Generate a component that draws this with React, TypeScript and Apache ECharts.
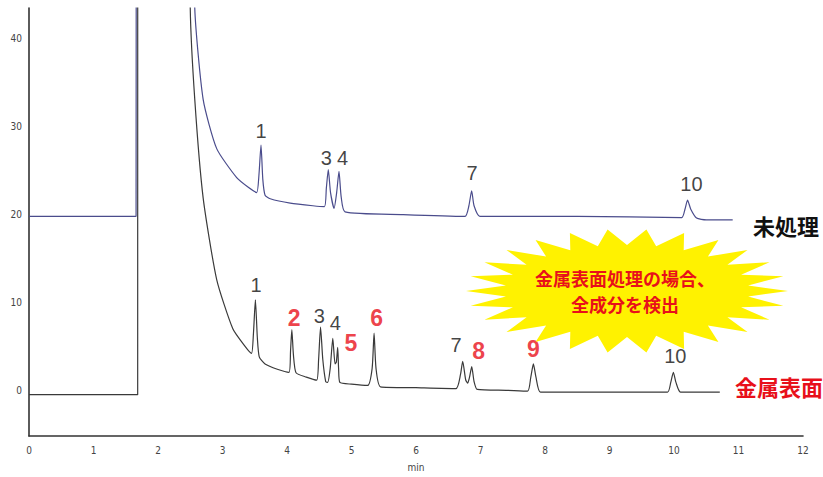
import React, { useEffect, useRef } from "react";
import * as echarts from "echarts";

// ---- data ----
// Untreated (未処理) trace: retention time (min) and detector signal
const untreatedTime = [
  0, 1.66, 1.665, 2.5, 2.57, 2.7, 2.91, 3.22, 3.4, 3.53, 3.565, 3.597, 3.625, 3.66, 3.74,
  4.05, 4.4, 4.58, 4.61, 4.64, 4.675, 4.73, 4.77, 4.806, 4.84, 4.9, 5.8, 6.76, 6.82,
  6.863, 6.9, 6.99, 8.5, 10.12, 10.17, 10.21, 10.26, 10.35, 10.5, 10.91,
];
const untreatedSignal = [
  19.8, 19.8, 80, 80, 43.5, 33.1, 27.5, 24.2, 23.1, 22.5, 24.5, 27.9, 24.0, 22.2, 21.8,
  21.3, 21.0, 20.9, 23.0, 25.1, 22.5, 20.7, 22.5, 24.9, 22.0, 20.3, 20.0, 19.8, 21.0,
  22.7, 21.0, 19.8, 19.8, 19.65, 20.6, 21.65, 20.6, 19.6, 19.4, 19.4,
];

// Metal-surface-treated (金属表面処理) trace
const treatedTime = [
  0, 1.685, 1.686, 2.46, 2.5, 2.57, 2.7, 2.91, 3.16, 3.35, 3.45, 3.48, 3.51, 3.54, 3.57,
  3.66, 3.85, 4.03, 4.055, 4.075, 4.1, 4.14, 4.3, 4.46, 4.49, 4.52, 4.555, 4.6, 4.63,
  4.67, 4.71, 4.745, 4.765, 4.786, 4.8, 4.82, 5.0, 5.25, 5.32, 5.35, 5.38, 5.45, 6.0,
  6.62, 6.69, 6.724, 6.77, 6.8, 6.83, 6.864, 6.9, 6.95, 7.4, 7.73, 7.78, 7.82, 7.86,
  7.93, 8.8, 9.9, 9.95, 9.99, 10.03, 10.1, 10.71,
];
const treatedSignal = [
  -0.5, -0.5, 80, 80, 43.5, 33.1, 21.9, 12.6, 7.0, 5.0, 4.2, 6.5, 10.3, 6.0, 3.8,
  3.0, 2.4, 2.05, 4.5, 6.9, 4.0, 2.0, 1.5, 1.15, 3.5, 7.2, 3.5, 1.0, 0.9,
  2.5, 5.9, 3.0, 3.2, 4.9, 2.5, 0.9, 0.7, 0.55, 2.5, 6.5, 2.5, 0.4, 0.3,
  0.2, 1.8, 3.3, 1.2, 0.8, 1.5, 2.7, 1.0, 0.1, 0.0, -0.1, 1.5, 3.0, 1.5,
  -0.2, -0.2, -0.2, 0.9, 2.05, 0.9, -0.2, -0.2,
];

// Peak labels (compound numbers) and where they sit
const untreatedPeakNames = ["1", "3", "4", "7", "10"];
const untreatedPeakTimes = [3.597, 4.61, 4.86, 6.87, 10.27];
const untreatedPeakLabelLevels = [29.5, 26.4, 26.4, 24.7, 23.5];

const treatedPeakNames = ["1", "2", "3", "4", "5", "6", "7", "8", "9", "10"];
const treatedPeakTimes = [3.52, 4.11, 4.5, 4.75, 4.99, 5.39, 6.62, 6.97, 7.82, 10.02];
const treatedPeakLabelLevels = [12.0, 8.2, 8.5, 7.7, 5.4, 8.2, 5.1, 4.5, 4.7, 3.9];
const newlyDetected = ["2", "5", "6", "8", "9"];

const yLabelValues = [0, 10, 20, 30, 40];

const RED = "#e8101a";
const NUM_FONT = "'Liberation Sans', Arial, 'DejaVu Sans', sans-serif";
const CJK_FONT = "'Noto Sans CJK JP', 'Noto Sans', sans-serif";
const AXIS_FONT = "'Liberation Sans Narrow', 'DejaVu Sans Condensed', 'Liberation Sans', sans-serif";

function starburst(cx: number, cy: number) {
  const n = 26;
  const pts: number[][] = [];
  for (let i = 0; i < n; i++) {
    const a1 = (i / n) * Math.PI * 2;
    const a2 = ((i + 0.5) / n) * Math.PI * 2;
    pts.push([cx + 161 * Math.cos(a1), cy + 62 * Math.sin(a1)]);
    pts.push([cx + 122 * Math.cos(a2), cy + 46 * Math.sin(a2)]);
  }
  return pts;
}

export default function App() {
  const ref = useRef<HTMLDivElement>(null);

  useEffect(() => {
    if (!ref.current) return;
    const chart = echarts.init(ref.current, undefined, { renderer: "svg" });

    const untreated = untreatedTime.map((t, i) => [t, untreatedSignal[i]]);
    const treated = treatedTime.map((t, i) => [t, treatedSignal[i]]);

    const untreatedLabels = untreatedPeakNames.map((n, i) => ({
      name: n,
      value: [untreatedPeakTimes[i], untreatedPeakLabelLevels[i]],
    }));
    const treatedLabels = treatedPeakNames.map((n, i) => {
      const isNew = newlyDetected.includes(n);
      return {
        name: n,
        value: [treatedPeakTimes[i], treatedPeakLabelLevels[i]],
        label: isNew
          ? { color: RED, fontWeight: "bold", fontSize: 23 }
          : { color: "#111", fontWeight: "normal", fontSize: 20 },
      };
    });

    const labelSeriesBase = {
      type: "scatter",
      symbolSize: 0,
      silent: true,
      z: 5,
      label: {
        show: true,
        position: "inside",
        formatter: "{b}",
        fontFamily: NUM_FONT,
        fontSize: 20,
        color: "#111",
      },
    };

    chart.setOption({
      animation: false,
      backgroundColor: "#ffffff",
      grid: { left: 29, right: 20, top: 8, bottom: 36, containLabel: false },
      xAxis: {
        type: "value",
        min: 0,
        max: 12,
        interval: 1,
        name: "min",
        nameLocation: "middle",
        nameGap: 26,
        nameTextStyle: { fontFamily: AXIS_FONT, fontSize: 10, color: "#444" },
        axisLine: { show: true, onZero: false, lineStyle: { color: "#333", width: 1.6 } },
        axisTick: { show: false },
        splitLine: { show: false },
        axisLabel: { fontFamily: AXIS_FONT, fontSize: 10, color: "#444", margin: 9 },
      },
      yAxis: {
        type: "value",
        min: -5.2,
        max: 43.5,
        axisLine: { show: true, onZero: false, lineStyle: { color: "#333", width: 1.6 } },
        axisTick: { show: false },
        splitLine: { show: false },
        axisLabel: {
          fontFamily: AXIS_FONT,
          fontSize: 10,
          color: "#444",
          margin: 7,
          customValues: yLabelValues,
        },
      },
      series: [
        {
          name: "未処理",
          type: "line",
          data: untreated,
          showSymbol: false,
          smooth: 0.2,
          clip: true,
          lineStyle: { color: "#4a4c8c", width: 1.2 },
        },
        {
          name: "金属表面処理",
          type: "line",
          data: treated,
          showSymbol: false,
          smooth: 0.2,
          clip: true,
          lineStyle: { color: "#3a3a3a", width: 1.2 },
        },
        { ...labelSeriesBase, name: "peaks-untreated", data: untreatedLabels },
        { ...labelSeriesBase, name: "peaks-treated", data: treatedLabels },
      ],
      graphic: [
        {
          type: "polygon",
          shape: { points: starburst(627, 291) },
          style: { fill: "#fff200" },
          z: 10,
        },
        {
          type: "text",
          x: 625,
          y: 278,
          z: 11,
          style: {
            text: "金属表面処理の場合、",
            font: `bold 18px ${CJK_FONT}`,
            fill: RED,
            align: "center",
            verticalAlign: "middle",
          },
        },
        {
          type: "text",
          x: 625,
          y: 304,
          z: 11,
          style: {
            text: "全成分を検出",
            font: `bold 18px ${CJK_FONT}`,
            fill: RED,
            align: "center",
            verticalAlign: "middle",
          },
        },
        {
          type: "text",
          x: 753,
          y: 225,
          z: 11,
          style: {
            text: "未処理",
            font: `bold 22px ${CJK_FONT}`,
            fill: "#111",
            align: "left",
            verticalAlign: "middle",
          },
        },
        {
          type: "text",
          x: 735,
          y: 386,
          z: 11,
          style: {
            text: "金属表面",
            font: `bold 22px ${CJK_FONT}`,
            fill: RED,
            align: "left",
            verticalAlign: "middle",
          },
        },
      ],
    });

    return () => chart.dispose();
  }, []);

  return (
    <div
      ref={ref}
      style={{ position: "fixed", left: 0, top: 0, width: 823, height: 477, background: "#fff" }}
    />
  );
}
